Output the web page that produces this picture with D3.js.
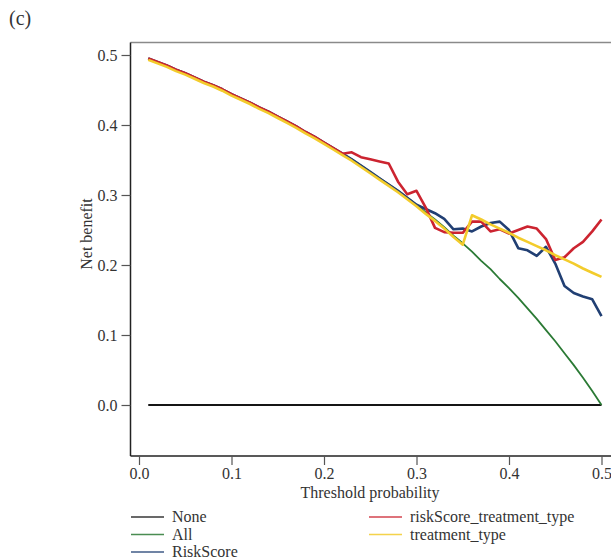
<!DOCTYPE html>
<html>
<head>
<meta charset="utf-8">
<script src="https://cdn.jsdelivr.net/npm/d3@7"></script>
<style>
  body { margin: 0; background: #fff; }
  svg text { font-family: "Liberation Serif", "DejaVu Serif", serif; fill: #333; }
</style>
</head>
<body>
<svg width="611" height="559"></svg>
<script>
const width = 611;
const height = 559;

// threshold probabilities on the x axis
const thresholds = [0.01, 0.02, 0.03, 0.04, 0.05, 0.06, 0.07, 0.08, 0.09, 0.10,
  0.11, 0.12, 0.13, 0.14, 0.15, 0.16, 0.17, 0.18, 0.19, 0.20,
  0.21, 0.22, 0.23, 0.24, 0.25, 0.26, 0.27, 0.28, 0.29, 0.30,
  0.31, 0.32, 0.33, 0.34, 0.35, 0.36, 0.37, 0.38, 0.39, 0.40,
  0.41, 0.42, 0.43, 0.44, 0.45, 0.46, 0.47, 0.48, 0.49, 0.50];

const noneNB = [0, 0, 0, 0, 0, 0, 0, 0, 0, 0,
  0, 0, 0, 0, 0, 0, 0, 0, 0, 0,
  0, 0, 0, 0, 0, 0, 0, 0, 0, 0,
  0, 0, 0, 0, 0, 0, 0, 0, 0, 0,
  0, 0, 0, 0, 0, 0, 0, 0, 0, 0];

const allNB = [0.495, 0.490, 0.485, 0.479, 0.474, 0.468, 0.462, 0.457, 0.451, 0.444,
  0.438, 0.432, 0.425, 0.419, 0.412, 0.405, 0.398, 0.390, 0.383, 0.375,
  0.367, 0.359, 0.351, 0.342, 0.333, 0.324, 0.315, 0.306, 0.296, 0.286,
  0.275, 0.265, 0.254, 0.242, 0.231, 0.219, 0.206, 0.194, 0.180, 0.167,
  0.153, 0.138, 0.123, 0.107, 0.091, 0.074, 0.057, 0.039, 0.020, 0.000];

const riskScoreNB = [0.495, 0.490, 0.485, 0.479, 0.474, 0.468, 0.462, 0.457, 0.451, 0.444,
  0.438, 0.432, 0.425, 0.419, 0.412, 0.405, 0.398, 0.390, 0.383, 0.375,
  0.367, 0.359, 0.351, 0.342, 0.333, 0.324, 0.315, 0.306, 0.296, 0.286,
  0.280, 0.274, 0.266, 0.251, 0.252, 0.248, 0.255, 0.260, 0.262, 0.250,
  0.224, 0.221, 0.213, 0.226, 0.202, 0.170, 0.160, 0.155, 0.151, 0.127];

const comboNB = [0.495, 0.490, 0.485, 0.479, 0.474, 0.468, 0.462, 0.457, 0.451, 0.444,
  0.438, 0.432, 0.425, 0.419, 0.412, 0.405, 0.398, 0.390, 0.383, 0.375,
  0.367, 0.359, 0.361, 0.354, 0.351, 0.348, 0.345, 0.319, 0.301, 0.306,
  0.282, 0.253, 0.247, 0.246, 0.246, 0.262, 0.262, 0.248, 0.251, 0.245,
  0.250, 0.255, 0.252, 0.237, 0.207, 0.211, 0.224, 0.233, 0.248, 0.265];

const treatmentNB = [0.493, 0.488, 0.483, 0.477, 0.472, 0.466, 0.460, 0.455, 0.449, 0.442,
  0.436, 0.430, 0.423, 0.417, 0.410, 0.403, 0.396, 0.388, 0.381, 0.373,
  0.365, 0.357, 0.349, 0.340, 0.331, 0.322, 0.313, 0.304, 0.294, 0.284,
  0.273, 0.263, 0.252, 0.240, 0.229, 0.271, 0.265, 0.258, 0.252, 0.246,
  0.239, 0.233, 0.227, 0.221, 0.214, 0.208, 0.202, 0.195, 0.189, 0.183];

const seriesNames = ["None", "All", "RiskScore", "riskScore_treatment_type", "treatment_type"];
const seriesValues = [noneNB, allNB, riskScoreNB, comboNB, treatmentNB];
const colors = ["#151515", "#2b7a35", "#213f73", "#cc2430", "#f3cc2c"];
const widths = [2.2, 1.8, 2.6, 2.6, 2.6];

const xTicks = [0.0, 0.1, 0.2, 0.3, 0.4, 0.5];
const yTicks = [0.0, 0.1, 0.2, 0.3, 0.4, 0.5];

const plot = { left: 130.5, top: 42.5, right: 611, bottom: 456 };
const fontSize = 16;

const svg = d3.select("svg");

const x = d3.scaleLinear().domain([0, 0.5]).range([139, 601.5]);
const y = d3.scaleLinear().domain([0, 0.5]).range([405, 55]);

// panel top border
svg.append("line")
  .attr("x1", plot.left).attr("x2", plot.right)
  .attr("y1", plot.top).attr("y2", plot.top)
  .attr("stroke", "#8a8a8a").attr("stroke-width", 1.3);

// y axis
const yAxis = svg.append("g")
  .attr("transform", "translate(" + plot.left + ",0)")
  .call(d3.axisLeft(y).tickValues(yTicks).tickFormat(d3.format(".1f")).tickSize(9).tickPadding(4));
yAxis.select(".domain").attr("d", "M0," + plot.top + "V" + plot.bottom)
  .attr("stroke", "#222").attr("stroke-width", 1.5);
yAxis.selectAll(".tick line").attr("stroke", "#555").attr("stroke-width", 1.2);
yAxis.selectAll(".tick text").attr("font-size", fontSize).attr("fill", "#333")
  .attr("font-family", "Liberation Serif");

// x axis
const xAxis = svg.append("g")
  .attr("transform", "translate(0," + plot.bottom + ")")
  .call(d3.axisBottom(x).tickValues(xTicks).tickFormat(d3.format(".1f")).tickSize(9).tickPadding(3));
xAxis.select(".domain").attr("d", "M" + plot.left + ",0H" + plot.right)
  .attr("stroke", "#222").attr("stroke-width", 1.5);
xAxis.selectAll(".tick line").attr("stroke", "#555").attr("stroke-width", 1.2);
xAxis.selectAll(".tick text").attr("font-size", fontSize).attr("fill", "#333")
  .attr("font-family", "Liberation Serif");

// curves
const line = d3.line()
  .x((d, i) => x(thresholds[i]))
  .y(d => y(d));

svg.append("g")
  .selectAll("path")
  .data(seriesValues)
  .enter()
  .append("path")
  .attr("d", d => line(d))
  .attr("fill", "none")
  .attr("stroke", (d, i) => colors[i])
  .attr("stroke-width", (d, i) => widths[i])
  .attr("stroke-linejoin", "round");

// titles
svg.append("text")
  .attr("x", 9).attr("y", 25)
  .attr("font-size", 20)
  .text("(c)");

svg.append("text")
  .attr("x", 370).attr("y", 498)
  .attr("text-anchor", "middle")
  .attr("font-size", fontSize)
  .text("Threshold probability");

svg.append("text")
  .attr("transform", "translate(92,234) rotate(-90)")
  .attr("text-anchor", "middle")
  .attr("font-size", fontSize)
  .text("Net benefit");

// legend, two columns
const legendPos = [[128, 517], [128, 534.5], [128, 552], [366, 517], [366, 534.5]];
const legend = svg.append("g");
const items = legend.selectAll("g")
  .data(seriesNames)
  .enter()
  .append("g")
  .attr("transform", (d, i) => "translate(" + legendPos[i][0] + "," + legendPos[i][1] + ")");
items.append("line")
  .attr("x1", 3).attr("x2", 36)
  .attr("stroke", (d, i) => colors[i])
  .attr("stroke-width", 1.4)
  .attr("opacity", 0.85);
items.append("text")
  .attr("x", 44).attr("y", 5)
  .attr("font-size", fontSize)
  .text(d => d);
</script>
</body>
</html>
